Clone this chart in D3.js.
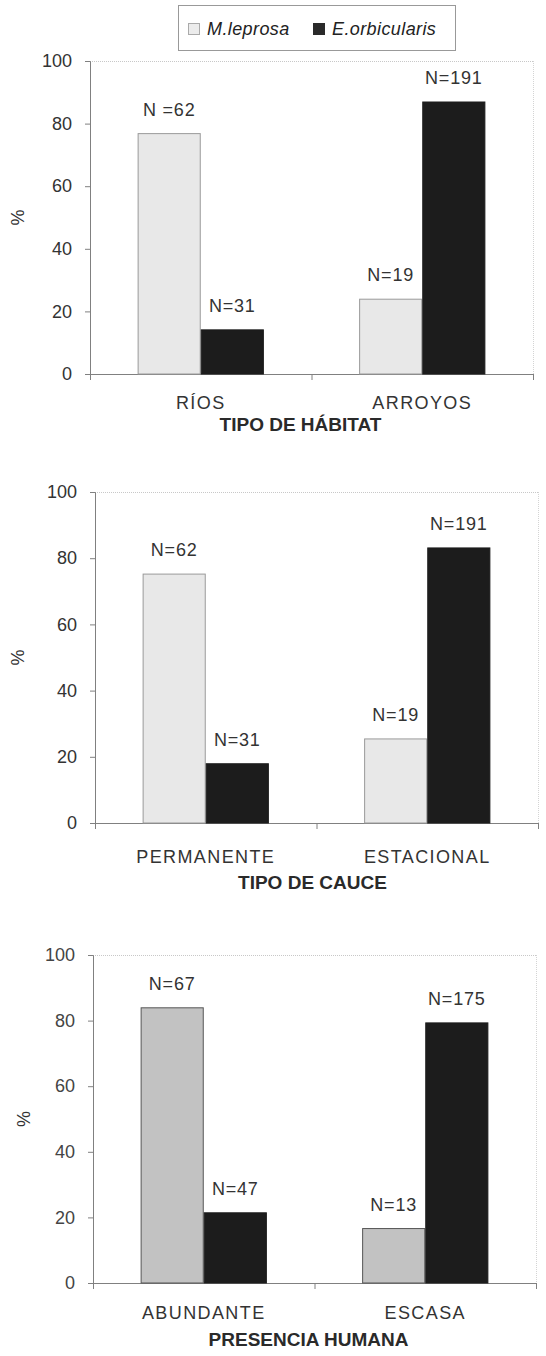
<!DOCTYPE html>
<html>
<head>
<meta charset="utf-8">
<script src="https://cdn.jsdelivr.net/npm/d3@7"></script>
<style>
  html, body { margin:0; padding:0; background:#fff; }
  svg { display:block; font-family:"Liberation Sans", Arial, sans-serif; }
</style>
</head>
<body>
<div id="chart"></div>
<script>
/* three grouped bar panels, M.leprosa vs E.orbicularis */

const SPECIES      = ["M.leprosa", "E.orbicularis"];
const TITLES       = ["TIPO DE HÁBITAT", "TIPO DE CAUCE", "PRESENCIA HUMANA"];
const CATEGORIES   = [["RÍOS", "ARROYOS"], ["PERMANENTE", "ESTACIONAL"], ["ABUNDANTE", "ESCASA"]];
const LEPROSA_PCT  = [[76.8, 23.9], [75.2, 25.4], [83.9, 16.6]];
const ORBIC_PCT    = [[14.1, 86.9], [17.9, 83.1], [21.4, 79.3]];
const LEPROSA_N    = [["N =62", "N=19"], ["N=62", "N=19"], ["N=67", "N=13"]];
const ORBIC_N      = [["N=31", "N=191"], ["N=31", "N=191"], ["N=47", "N=175"]];
const Y_TICKS      = [0, 20, 40, 60, 80, 100];

const W = 546, H = 1356;

// panel frames (left, right, top of 100, baseline of 0)
const PANELS = [
  {l:90, r:533, t:61,  b:374,  catDy:35, titleDy:57, titleDx:-11},
  {l:95, r:538, t:492, b:823,  catDy:40, titleDy:66, titleDx:-4},
  {l:93, r:536, t:955, b:1283, catDy:36, titleDy:63, titleDx:-6}
];
const LEP_FILL = ["#e8e8e8", "#e8e8e8", "#c2c2c2"];
const LEP_STROKE = ["#9a9a9a", "#9a9a9a", "#555"];
const ORB_FILL = "#1c1c1c";

const svg = d3.select("#chart").append("svg").attr("width", W).attr("height", H);

/* ---------- legend ---------- */
const leg = svg.append("g");
leg.append("rect").attr("x", 178.5).attr("y", 5.5).attr("width", 277).attr("height", 45)
  .attr("fill", "#fff").attr("stroke", "#999");
const legX = d3.scalePoint(SPECIES, [188, 313]);
leg.selectAll("rect.sw").data(SPECIES).enter().append("rect").attr("class", "sw")
  .attr("x", d => legX(d) + 0.5).attr("y", 23.5).attr("width", 11).attr("height", 11)
  .attr("fill", (d, i) => i ? "#2a2a2a" : "#ececec")
  .attr("stroke", (d, i) => i ? "#2a2a2a" : "#aaa");
leg.selectAll("text").data(SPECIES).enter().append("text")
  .attr("x", d => legX(d) + 19).attr("y", 35)
  .style("font-size", "18px").style("font-style", "italic").style("letter-spacing", "0.4px")
  .attr("fill", "#222").text(d => d);

/* ---------- panels ---------- */
PANELS.forEach((p, k) => {
  const g = svg.append("g");
  const y = d3.scaleLinear([0, 100], [p.b, p.t]);
  const x0 = d3.scaleBand(CATEGORIES[k], [p.l, p.r]);
  const bw = x0.bandwidth();
  const x1 = d3.scaleBand(SPECIES, [bw * 0.215, bw * 0.785]);

  // frame: top and right dotted
  g.append("line").attr("x1", p.l).attr("x2", p.r).attr("y1", p.t + 0.5).attr("y2", p.t + 0.5)
    .attr("stroke", "#c8c8c8").attr("stroke-dasharray", "1 1");
  g.append("line").attr("x1", p.r + 0.5).attr("x2", p.r + 0.5).attr("y1", p.t).attr("y2", p.b)
    .attr("stroke", "#d4d4d4").attr("stroke-dasharray", "1 1");

  // y axis
  const ya = g.append("g").attr("transform", `translate(${p.l},0)`)
    .call(d3.axisLeft(y).tickValues(Y_TICKS).tickSize(5).tickPadding(13));
  ya.select(".domain").attr("stroke", "#808080");
  ya.selectAll(".tick line").attr("stroke", "#808080");
  ya.selectAll(".tick text").style("font-size", "18px").attr("fill", k === 2 ? "#444" : "#333")
    .attr("font-family", null);

  // x axis with ticks at band edges
  const xa = g.append("g").attr("transform", `translate(0,${p.b})`)
    .call(d3.axisBottom(d3.scaleLinear([0, 2], [p.l, p.r])).tickValues([0, 1, 2])
      .tickSize(6).tickSizeOuter(0).tickFormat(""));
  xa.select(".domain").attr("stroke", "#808080");
  xa.selectAll(".tick line").attr("stroke", "#808080");

  // bars
  const rows = CATEGORIES[k].map((c, i) => ({
    cat: c,
    vals: [
      {sp: SPECIES[0], v: LEPROSA_PCT[k][i], n: LEPROSA_N[k][i]},
      {sp: SPECIES[1], v: ORBIC_PCT[k][i],   n: ORBIC_N[k][i]}
    ]
  }));
  const grp = g.selectAll("g.grp").data(rows).enter().append("g").attr("class", "grp")
    .attr("transform", d => `translate(${x0(d.cat)},0)`);
  grp.selectAll("rect").data(d => d.vals).enter().append("rect")
    .attr("x", d => x1(d.sp) + 0.5).attr("width", x1.bandwidth() - 1)
    .attr("y", d => y(d.v)).attr("height", d => p.b - y(d.v))
    .attr("fill", (d, i) => i ? ORB_FILL : LEP_FILL[k])
    .attr("stroke", (d, i) => i ? ORB_FILL : LEP_STROKE[k]).attr("stroke-width", 1);
  grp.selectAll("text").data(d => d.vals).enter().append("text")
    .attr("x", d => x1(d.sp) + x1.bandwidth() / 2).attr("y", d => y(d.v) - 18)
    .attr("text-anchor", "middle").style("font-size", "18px").style("letter-spacing", "0.8px")
    .attr("fill", "#333").text(d => d.n);

  // category labels
  g.selectAll("text.cat").data(CATEGORIES[k]).enter().append("text").attr("class", "cat")
    .attr("x", d => x0(d) + bw / 2).attr("y", p.b + p.catDy)
    .attr("text-anchor", "middle").style("font-size", "18px").style("letter-spacing", "1.4px")
    .attr("fill", "#333").text(d => d);

  // title
  g.append("text").attr("x", (p.l + p.r) / 2 + p.titleDx).attr("y", p.b + p.titleDy)
    .attr("text-anchor", "middle").style("font-size", "19px").style("font-weight", "bold")
    .attr("fill", "#2a2a2a").text(TITLES[k]);

  // y label
  g.append("text").attr("transform", `translate(${k === 2 ? 30 : 24},${(p.t + p.b) / 2}) rotate(-90)`)
    .attr("text-anchor", "middle").style("font-size", "18px").attr("fill", "#333").text("%");
});
</script>
</body>
</html>
